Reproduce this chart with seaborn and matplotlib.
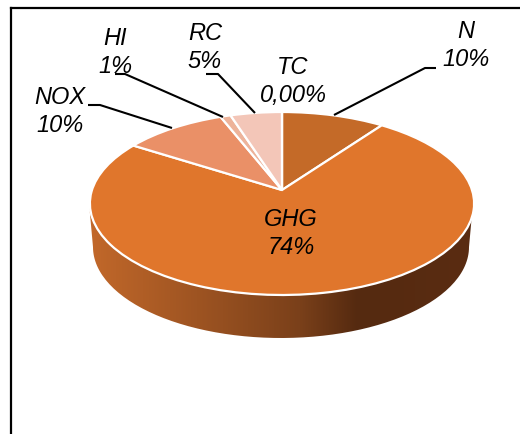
import numpy as np
import matplotlib
matplotlib.use("Agg")
import matplotlib.pyplot as plt
import seaborn as sns
from matplotlib.colors import LinearSegmentedColormap
from matplotlib.patches import PathPatch
from matplotlib.path import Path
from matplotlib.transforms import Transform

categories = ["N", "GHG", "NOX", "HI", "RC", "TC"]
shares = [10, 74, 10, 1, 5, 0]
share_labels = ["10%", "74%", "10%", "1%", "5%", "0,00%"]
slice_colors = ["#C46A28", "#E0762C", "#EA9067", "#EDB39A", "#F3C6B8", "#F3C6B8"]
wall_stops = [0.0, 0.28, 0.55, 0.70, 1.0]
wall_colors = ["#C2682A", "#9E5422", "#7A401A", "#552A10", "#5A2C12"]

sns.set_theme(style="white")
plt.rcParams["font.family"] = ["Liberation Sans", "DejaVu Sans"]


class TiltedDisc(Transform):
    """Perspective view of the unit disc, expressed in pixel-like axes units."""
    input_dims = 2
    output_dims = 2

    def __init__(self, cx, cy, sx, sy, k):
        super().__init__()
        self.cx, self.cy, self.sx, self.sy, self.k = cx, cy, sx, sy, k

    def transform_non_affine(self, values):
        values = np.asarray(values, dtype=float)
        w = 1 + self.k * values[:, 1]
        return np.column_stack([self.cx + self.sx * values[:, 0] / w,
                                self.cy - self.sy * values[:, 1] / w])


fig = plt.figure(figsize=(5.2, 4.34), dpi=100, facecolor="white")
ax = fig.add_axes([11 / 520, 0, 509 / 520, 426 / 434])
disc = TiltedDisc(282, 190, 190, 89.5, 0.1475)

# Side wall of the disc: a horizontal gradient clipped to the lower rim band.
t = np.linspace(np.pi, 2 * np.pi, 120)
upper_rim = np.column_stack([281 + 192 * np.cos(t), 203 - 91.5 * np.sin(t)])
lower_rim = np.column_stack([281 + 188 * np.cos(t), 247 - 91 * np.sin(t)])
outline = np.vstack([upper_rim, lower_rim[::-1], upper_rim[:1]])
wall_cmap = LinearSegmentedColormap.from_list("wall", list(zip(wall_stops, wall_colors)))
wall = ax.imshow(np.linspace(0, 1, 256)[None, :], cmap=wall_cmap, aspect="auto",
                 extent=(89, 473, 340, 200), zorder=1)
clip = PathPatch(Path(outline), transform=ax.transData, facecolor="none", edgecolor="none")
ax.add_patch(clip)
wall.set_clip_path(clip)

wedges, _ = ax.pie(shares, colors=slice_colors, startangle=90, counterclock=False,
                   wedgeprops=dict(edgecolor="white", linewidth=1.6))
for wedge in wedges:
    wedge.set_transform(disc + ax.transData)
    wedge.set_zorder(2)
    wedge.set_clip_on(False)

# Leader lines from the rim towards the outer labels.
leaders = {
    "N": ([334, 425, 436], [115, 68, 68]),
    "NOX": ([172, 100, 88], [128, 105, 105]),
    "HI": ([223, 125, 115], [117, 74, 74]),
    "RC": ([255, 218, 206], [113, 74, 74]),
}
for xs, ys in leaders.values():
    ax.plot(xs, ys, color="black", lw=1.5, solid_capstyle="butt", zorder=3)

label_spots = {"N": (466, 45.5), "GHG": (291, 233.5), "NOX": (60, 111.5),
               "HI": (115, 52.5), "RC": (205, 47.5), "TC": (293, 81.5)}
for name, text in zip(categories, share_labels):
    x, y = label_spots[name]
    ax.text(x, y, f"{name}\n{text}", ha="center", va="center", style="italic",
            fontsize=17, color="black", linespacing=1.27, zorder=4)

ax.set_xlim(11, 520)
ax.set_ylim(434, 8)
ax.set_aspect("auto")
ax.set_frame_on(True)
ax.set_xticks([])
ax.set_yticks([])
for side, spine in ax.spines.items():
    spine.set_visible(side in ("top", "left"))
    spine.set_color("black")
    spine.set_linewidth(1.6)

fig.savefig("out.png", dpi=100)
